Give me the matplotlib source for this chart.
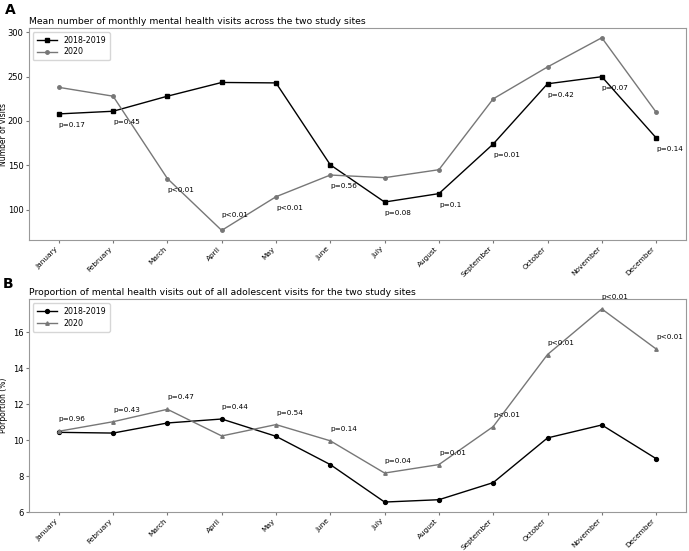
import matplotlib
matplotlib.use("Agg")
import matplotlib.pyplot as plt

months = ["January", "February", "March", "April", "May", "June",
          "July", "August", "September", "October", "November", "December"]

# panel A: mean monthly mental health visits
visits_1819 = [208, 211, 228, 243.5, 243, 150.5, 108.5, 118, 174, 242, 250, 181]
visits_2020 = [238, 228, 135, 76.5, 114.5, 139, 136, 145, 225, 261, 294, 210]
p_visits = ["p=0.17", "p=0.45", "p<0.01", "p<0.01", "p<0.01", "p=0.56",
            "p=0.08", "p=0.1", "p=0.01", "p=0.42", "p=0.07", "p=0.14"]

# panel B: proportion of mental health visits (%)
prop_1819 = [10.44, 10.40, 10.96, 11.18, 10.22, 8.65, 6.57, 6.70, 7.65, 10.13, 10.85, 8.98]
prop_2020 = [10.50, 11.03, 11.72, 10.24, 10.87, 9.97, 8.18, 8.65, 10.76, 14.76, 17.29, 15.07]
p_prop = ["p=0.96", "p=0.43", "p=0.47", "p=0.44", "p=0.54", "p=0.14",
          "p=0.04", "p=0.01", "p<0.01", "p<0.01", "p<0.01", "p<0.01"]

fig = plt.figure(figsize=(6.89, 5.51), dpi=100)
axA = fig.add_axes([0.042, 0.5644, 0.9536, 0.3846])
axB = fig.add_axes([0.042, 0.0702, 0.9536, 0.3866])

x = list(range(len(months)))
grey = "#777777"

axA.plot(x, visits_1819, color="black", marker="s", markersize=2.8, linewidth=1, label="2018-2019")
axA.plot(x, visits_2020, color=grey, marker="o", markersize=2.5, linewidth=1, label="2020")
for i in x:
    lo = min(visits_1819[i], visits_2020[i])
    if lo < 90:
        axA.annotate(p_visits[i], (i, lo), xytext=(0, 15), textcoords="offset pixels",
                     fontsize=5.2, ha="left", va="center")
    else:
        axA.annotate(p_visits[i], (i, lo), xytext=(0, -11), textcoords="offset pixels",
                     fontsize=5.2, ha="left", va="center")
axA.set_title("Mean number of monthly mental health visits across the two study sites",
              loc="left", fontsize=6.7, pad=3)
axA.set_ylabel("Number of visits", fontsize=5.5)

axB.plot(x, prop_1819, color="black", marker="o", markersize=2.8, linewidth=1, label="2018-2019")
axB.plot(x, prop_2020, color=grey, marker="^", markersize=2.5, linewidth=1, label="2020")
for i in x:
    hi = max(prop_1819[i], prop_2020[i])
    axB.annotate(p_prop[i], (i, hi), xytext=(0, 12), textcoords="offset pixels",
                 fontsize=5.2, ha="left", va="center")
axB.set_ylim(bottom=6)
axB.set_title("Proportion of mental health visits out of all adolescent visits for the two study sites",
              loc="left", fontsize=6.7, pad=3)
axB.set_ylabel("Porportion (%)", fontsize=5.5)

for ax in (axA, axB):
    ax.set_xticks(x)
    ax.set_xticklabels(months, rotation=45, ha="right", fontsize=5.3)
    ax.tick_params(axis="y", labelsize=6, length=2.5, pad=1.5, color=grey)
    ax.tick_params(axis="x", length=2.5, pad=1.5, color=grey)
    ax.yaxis.set_label_coords(-0.032, 0.5)
    for s in ax.spines.values():
        s.set_color("#999999")
    ax.legend(loc="upper left", fontsize=5.7, handlelength=2.5, borderpad=0.5,
              labelspacing=0.3, borderaxespad=0.5)

fig.text(0.007, 0.995, "A", fontsize=10, fontweight="bold", va="top", ha="left")
fig.text(0.004, 0.497, "B", fontsize=10, fontweight="bold", va="top", ha="left")

fig.savefig("out.png", dpi=100)
